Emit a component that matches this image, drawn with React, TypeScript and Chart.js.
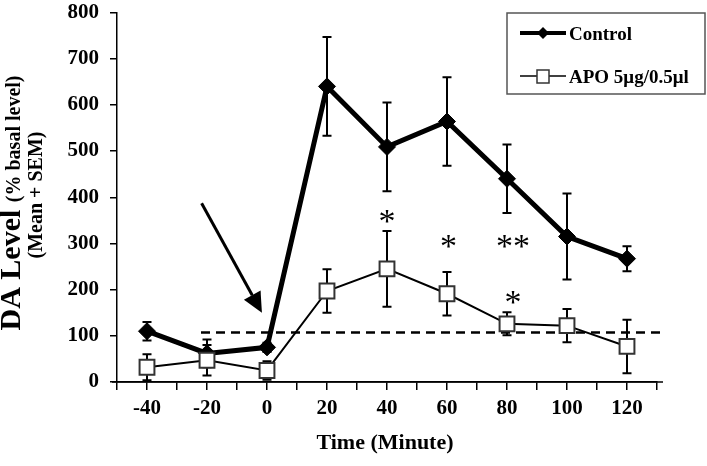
import React, { useEffect, useRef } from "react";
import { Chart, registerables } from "chart.js";

Chart.register(...registerables);

// ---- data ----
const timePoints = [-40, -20, 0, 20, 40, 60, 80, 100, 120];
const controlMean = [110, 62, 75, 640, 509, 564, 440, 315, 267];
const controlSem = [20, 30, 10, 107, 96, 96, 74, 93, 27];
const apoMean = [32, 47, 25, 197, 245, 191, 126, 122, 77];
const apoSem = [28, 33, 20, 47, 82, 47, 25, 36, 58];
const xTickLabels = [-40, -20, 0, 20, 40, 60, 80, 100, 120];
const yTickValues = [0, 100, 200, 300, 400, 500, 600, 700, 800];
const baselineLevel = 107;
const baselineStart = -22;
const asteriskX = [40, 60.5, 82, 82];
const asteriskY = [358, 305, 305, 182];
const asteriskText = ["*", "*", "**", "*"];
const arrowFromX = -21.8;
const arrowFromY = 387;
const arrowToX = -1.7;
const arrowToY = 150;
const legendLabels = ["Control", "APO 5μg/0.5μl"];

const SERIF = "'Liberation Serif', 'Times New Roman', serif";

const errorBarPlugin = {
  id: "errorBarsAndBaseline",
  beforeDatasetsDraw(chart: any) {
    const { ctx, scales } = chart;
    const x = scales.x;
    const y = scales.y;
    ctx.save();
    // dashed baseline
    ctx.strokeStyle = "#000";
    ctx.lineWidth = 2.5;
    ctx.setLineDash([9, 6]);
    ctx.beginPath();
    const by = y.getPixelForValue(baselineLevel);
    ctx.moveTo(x.getPixelForValue(baselineStart), by);
    ctx.lineTo(chart.chartArea.right + 6, by);
    ctx.stroke();
    ctx.setLineDash([]);
    // error bars
    ctx.lineWidth = 2;
    const sets: [number[], number[]][] = [
      [controlMean, controlSem],
      [apoMean, apoSem],
    ];
    sets.forEach(([m, s]) => {
      timePoints.forEach((t, i) => {
        const px = x.getPixelForValue(t);
        const top = y.getPixelForValue(m[i] + s[i]);
        const bot = y.getPixelForValue(Math.max(0, m[i] - s[i]));
        ctx.beginPath();
        ctx.moveTo(px, top);
        ctx.lineTo(px, bot);
        ctx.moveTo(px - 4.5, top);
        ctx.lineTo(px + 4.5, top);
        ctx.moveTo(px - 4.5, bot);
        ctx.lineTo(px + 4.5, bot);
        ctx.stroke();
      });
    });
    ctx.restore();
  },
  afterDraw(chart: any) {
    const { ctx, scales, chartArea } = chart;
    const x = scales.x;
    const y = scales.y;
    ctx.save();
    ctx.fillStyle = "#000";
    ctx.strokeStyle = "#000";

    // axis line extension
    ctx.lineWidth = 1.5;
    ctx.beginPath();
    ctx.moveTo(chartArea.left - 5, chartArea.bottom);
    ctx.lineTo(chartArea.right + 6, chartArea.bottom);
    ctx.stroke();

    // asterisks
    ctx.font = `34px ${SERIF}`;
    ctx.textAlign = "center";
    ctx.textBaseline = "alphabetic";
    asteriskText.forEach((txt, i) => {
      const px = x.getPixelForValue(asteriskX[i]);
      const py = y.getPixelForValue(asteriskY[i]);
      const m = ctx.measureText(txt);
      const off = (m.actualBoundingBoxAscent - m.actualBoundingBoxDescent) / 2;
      ctx.fillText(txt, px, py + off);
    });

    // arrow
    const ax0 = x.getPixelForValue(arrowFromX);
    const ay0 = y.getPixelForValue(arrowFromY);
    const ax1 = x.getPixelForValue(arrowToX);
    const ay1 = y.getPixelForValue(arrowToY);
    const ang = Math.atan2(ay1 - ay0, ax1 - ax0);
    const headLen = 20;
    const headW = 9.5;
    const bx = ax1 - headLen * Math.cos(ang);
    const byy = ay1 - headLen * Math.sin(ang);
    ctx.lineWidth = 3;
    ctx.beginPath();
    ctx.moveTo(ax0, ay0);
    ctx.lineTo(bx, byy);
    ctx.stroke();
    ctx.beginPath();
    ctx.moveTo(ax1, ay1);
    ctx.lineTo(bx + headW * Math.sin(ang), byy - headW * Math.cos(ang));
    ctx.lineTo(bx - headW * Math.sin(ang), byy + headW * Math.cos(ang));
    ctx.closePath();
    ctx.fill();

    // y title (rotated, mixed fonts)
    ctx.save();
    ctx.translate(20, 203);
    ctx.rotate(-Math.PI / 2);
    ctx.textAlign = "left";
    ctx.textBaseline = "alphabetic";
    const bigFont = `bold 30px ${SERIF}`;
    const smallFont = `bold 20px ${SERIF}`;
    ctx.font = bigFont;
    const w1 = ctx.measureText("DA Level ").width;
    ctx.font = smallFont;
    const w2 = ctx.measureText("(% basal level)").width;
    const start = -(w1 + w2) / 2;
    ctx.font = bigFont;
    ctx.fillText("DA Level ", start, 0);
    ctx.font = smallFont;
    ctx.fillText("(% basal level)", start + w1, 0);
    ctx.restore();
    ctx.save();
    ctx.translate(42, 195);
    ctx.rotate(-Math.PI / 2);
    ctx.font = `bold 20px ${SERIF}`;
    ctx.textAlign = "center";
    ctx.textBaseline = "alphabetic";
    ctx.fillText("(Mean + SEM)", 0, 0);
    ctx.restore();

    // x title
    ctx.font = `bold 22px ${SERIF}`;
    ctx.textAlign = "center";
    ctx.textBaseline = "middle";
    ctx.fillText("Time (Minute)", (chartArea.left + chartArea.right) / 2 - 2, 443);

    // legend
    ctx.lineWidth = 1.5;
    ctx.strokeStyle = "#555";
    ctx.strokeRect(507, 13, 198, 81);
    ctx.strokeStyle = "#000";
    // control row
    ctx.lineWidth = 4;
    ctx.beginPath();
    ctx.moveTo(520, 33);
    ctx.lineTo(566, 33);
    ctx.stroke();
    ctx.beginPath();
    ctx.moveTo(543 - 6, 33);
    ctx.lineTo(543, 27);
    ctx.lineTo(543 + 6, 33);
    ctx.lineTo(543, 39);
    ctx.closePath();
    ctx.fill();
    // apo row
    ctx.lineWidth = 1.5;
    ctx.beginPath();
    ctx.moveTo(520, 76);
    ctx.lineTo(566, 76);
    ctx.stroke();
    ctx.fillStyle = "#fff";
    ctx.fillRect(537, 70, 12, 13);
    ctx.strokeStyle = "#333";
    ctx.strokeRect(537, 70, 12, 13);
    ctx.fillStyle = "#000";
    ctx.font = `bold 19px ${SERIF}`;
    ctx.textAlign = "left";
    ctx.textBaseline = "middle";
    ctx.fillText(legendLabels[0], 569, 35);
    ctx.fillText(legendLabels[1], 569, 78);
    ctx.restore();
  },
};

export default function App() {
  const canvasRef = useRef<HTMLCanvasElement | null>(null);

  useEffect(() => {
    if (!canvasRef.current) return;
    Chart.defaults.font.family = SERIF;
    const chart = new Chart(canvasRef.current, {
      type: "line",
      data: {
        datasets: [
          {
            label: legendLabels[1],
            data: timePoints.map((t, i) => ({ x: t, y: apoMean[i] })),
            borderColor: "#000",
            borderWidth: 2,
            pointStyle: "rect",
            pointRadius: 10.5,
            pointHoverRadius: 10.5,
            pointBackgroundColor: "#fff",
            pointBorderColor: "#333",
            pointBorderWidth: 2,
            tension: 0,
          },
          {
            label: legendLabels[0],
            data: timePoints.map((t, i) => ({ x: t, y: controlMean[i] })),
            borderColor: "#000",
            borderWidth: 5,
            pointStyle: "rectRot",
            pointRadius: 8.5,
            pointHoverRadius: 8.5,
            pointBackgroundColor: "#000",
            pointBorderColor: "#000",
            pointBorderWidth: 1,
            tension: 0,
          },
        ],
      },
      options: {
        animation: false,
        responsive: false,
        events: [],
        layout: { padding: { top: 10, right: 50, bottom: 0, left: 0 } },
        plugins: {
          legend: { display: false },
          tooltip: { enabled: false },
          title: { display: false },
        },
        scales: {
          x: {
            type: "linear",
            min: -50,
            max: 130,
            afterFit: (scale: any) => {
              scale.height = 84;
              scale.paddingLeft = 0;
              scale.paddingRight = 0;
            },
            afterBuildTicks: (scale: any) => {
              const ticks = [];
              for (let v = -50; v <= 130; v += 10) ticks.push({ value: v });
              scale.ticks = ticks;
            },
            ticks: {
              autoSkip: false,
              maxRotation: 0,
              minRotation: 0,
              padding: 6,
              color: "#000",
              font: { family: SERIF, size: 21, weight: "bold" },
              callback: (v: any) => (xTickLabels.includes(Number(v)) ? String(v) : ""),
            },
            grid: {
              drawOnChartArea: false,
              drawTicks: true,
              tickLength: 8,
              color: "#000",
              lineWidth: 1.5,
            },
            border: { display: true, color: "#000", width: 1.5 },
          },
          y: {
            type: "linear",
            min: 0,
            max: 800,
            afterFit: (scale: any) => {
              scale.width = 117;
              scale.paddingTop = 0;
              scale.paddingBottom = 0;
            },
            afterBuildTicks: (scale: any) => {
              scale.ticks = yTickValues.map((v) => ({ value: v }));
            },
            ticks: {
              padding: 11,
              color: "#000",
              font: { family: SERIF, size: 21, weight: "bold" },
              callback: (v: any) => String(v),
            },
            grid: {
              drawOnChartArea: false,
              drawTicks: true,
              tickLength: 7,
              color: "#000",
              lineWidth: 1.5,
            },
            border: { display: true, color: "#000", width: 1.5 },
          },
        },
      },
      plugins: [errorBarPlugin],
    } as any);
    return () => chart.destroy();
  }, []);

  return (
    <div
      style={{
        position: "fixed",
        left: 0,
        top: 0,
        width: 707,
        height: 466,
        background: "#fff",
      }}
    >
      <canvas ref={canvasRef} width={707} height={466} style={{ width: 707, height: 466 }} />
    </div>
  );
}
